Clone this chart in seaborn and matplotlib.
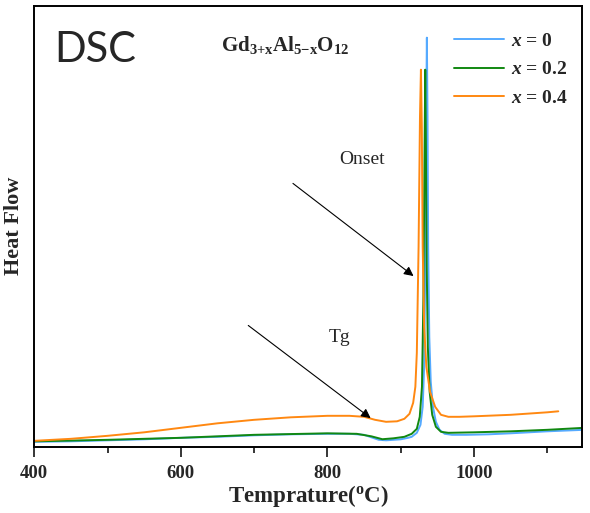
import matplotlib
matplotlib.use("Agg")
import matplotlib.pyplot as plt
import seaborn as sns
import pandas as pd

# DSC traces (heat flow in arbitrary units)
temp_x0 = [400, 450, 500, 550, 600, 650, 700, 750, 800, 830, 850, 860, 870, 880, 890,
           900, 910, 915, 922, 927, 930, 932, 933.5, 934.8, 935.7, 936.6, 937.5, 939,
           941, 944, 948, 953, 960, 970, 990, 1020, 1050, 1100, 1150]
flow_x0 = [5, 5.5, 6.5, 7.5, 9, 10, 11.5, 12.5, 13, 13, 12, 9.5, 7, 6.5, 7,
           7.5, 9, 10, 14, 22, 40, 80, 180, 330, 409, 330, 200, 110,
           65, 40, 25, 17, 13, 12, 12, 12.5, 13.5, 15.5, 17]

temp_x02 = [400, 500, 600, 700, 800, 840, 860, 875, 890, 905, 915, 922, 926, 929,
            931, 932.6, 933.5, 934.4, 935.5, 937, 939.5, 943, 948, 955, 965, 1000,
            1050, 1100, 1150]
flow_x02 = [5.5, 7, 9, 12, 13.5, 13, 10.5, 7.6, 8.5, 10, 13, 18, 30, 60,
            150, 300, 377, 300, 180, 100, 55, 32, 20, 15, 14, 14.5,
            15.5, 17, 19]

temp_x04 = [400, 450, 500, 550, 600, 650, 700, 750, 800, 830, 850, 865, 880, 895,
            905, 912, 917, 920, 922, 924.4, 926.3, 927.6, 928.8, 930, 932, 935, 940,
            947, 955, 965, 980, 1000, 1050, 1100, 1115]
flow_x04 = [6, 8, 11, 14.5, 19, 23.5, 27, 29.5, 31, 31, 30, 27, 25, 25.5,
            28, 33, 44, 60, 94, 200, 330, 377, 320, 200, 120, 80, 55,
            40, 32, 30, 30, 30.5, 32, 34.5, 35.5]

labels = [r'$\mathbfit{x}$ = 0', r'$\mathbfit{x}$ = 0.2', r'$\mathbfit{x}$ = 0.4']
colors = ['#55aaff', '#118811', '#ff8811']

frames = []
for t, f, lab in zip([temp_x0, temp_x02, temp_x04], [flow_x0, flow_x02, flow_x04], labels):
    frames.append(pd.DataFrame({'T': t, 'HF': f, 'sample': lab}))
df = pd.concat(frames, ignore_index=True)

sns.set_theme(style='ticks')
plt.rcParams['font.family'] = ['Liberation Serif', 'DejaVu Serif']
plt.rcParams['mathtext.fontset'] = 'custom'
plt.rcParams['mathtext.rm'] = 'Liberation Serif'
plt.rcParams['mathtext.it'] = 'Liberation Serif:italic'
plt.rcParams['mathtext.bf'] = 'Liberation Serif:bold'
plt.rcParams['mathtext.bfit'] = 'Liberation Serif:italic:bold'

fig = plt.figure(figsize=(5.9, 5.13), dpi=100)
ax = fig.add_axes([0.058, 0.129, 0.928, 0.86])

sns.lineplot(data=df, x='T', y='HF', hue='sample', palette=colors, hue_order=labels,
             sort=False, estimator=None, lw=1.4, ax=ax)

ax.set_xlim(400, 1147)
ax.set_ylim(0, 441)
ax.set_yticks([])
ax.set_xticks([400, 600, 800, 1000])
ax.set_xticks([500, 700, 900, 1100], minor=True)
ax.tick_params(axis='x', which='major', length=7, width=1.3, labelsize=13.5,
               direction='out', pad=6)
ax.tick_params(axis='x', which='minor', length=4, width=1.3, direction='out')
for lab in ax.get_xticklabels():
    lab.set_fontweight('bold')
for s in ax.spines.values():
    s.set_visible(True)
    s.set_linewidth(1.4)
    s.set_color('black')

ax.set_xlabel(r'Temprature($^{\mathbf{o}}$C)', fontsize=16.5, fontweight='bold', labelpad=1)
ax.set_ylabel('Heat Flow', fontsize=16, fontweight='bold', labelpad=7)

ax.text(0.037, 0.90, 'DSC', transform=ax.transAxes, fontsize=30, family='Lato',
        va='center', ha='left')
ax.text(0.458, 0.91, r'Gd$_{\mathbf{3{+}x}}$Al$_{\mathbf{5{-}x}}$O$_{\mathbf{12}}$',
        transform=ax.transAxes, fontsize=15, fontweight='bold', ha='center', va='center')

ax.annotate('', xy=(920.5, 169), xytext=(750, 265),
            arrowprops=dict(arrowstyle='-|>', color='black', lw=0.8, mutation_scale=14))
ax.annotate('', xy=(862, 27), xytext=(689, 123),
            arrowprops=dict(arrowstyle='-|>', color='black', lw=0.8, mutation_scale=14))
ax.text(847, 287, 'Onset', fontsize=14, ha='center', va='center')
ax.text(817, 109, 'Tg', fontsize=14, ha='center', va='center')

leg = ax.legend(loc='upper right', frameon=False, fontsize=14, handlelength=2.6,
                handletextpad=0.35, labelspacing=0.55, bbox_to_anchor=(1.0, 0.97),
                borderaxespad=0.3)
for t in leg.get_texts():
    t.set_fontweight('bold')

fig.savefig('out.png', dpi=100)
